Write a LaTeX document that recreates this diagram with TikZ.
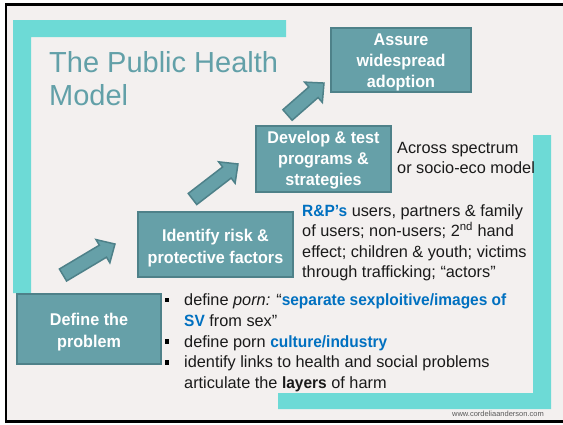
\documentclass[tikz,border=0pt]{standalone}
\usepackage{fontspec}
\setmainfont{Liberation Sans}[BoldFeatures={FakeStretch=0.95}]
\definecolor{bgc}{HTML}{F3F0EF}
\definecolor{lteal}{HTML}{6DDAD6}
\definecolor{boxfill}{HTML}{66A0A8}
\definecolor{boxline}{HTML}{4E8189}
\definecolor{titlec}{HTML}{62A0A8}
\definecolor{bblue}{HTML}{0070C0}
\definecolor{txt}{HTML}{1A1A1A}
\newcommand\blockarr[4]{%
  \draw[arrowst, shift={(#1,#2)}, rotate=#3]
    (0,-7) -- (#4-14,-7) -- (#4-14,-13.5) -- (#4,0) -- (#4-14,13.5) -- (#4-14,7) -- (0,7) -- cycle;}
\begin{document}
\begin{tikzpicture}[x=1pt,y=-1pt,
  box/.style={draw=boxline, fill=boxfill, line width=1.5pt, inner sep=0, rectangle},
  boxtext/.style={text=white, font=\fontsize{17}{21.5}\selectfont\bfseries, align=center, inner sep=0},
  body/.style={text=txt, font=\fontsize{16.3}{20.8}\selectfont, align=left, inner sep=0},
  arrowst/.style={draw=boxline, fill=boxfill, line width=1.5pt, line join=miter},
  bul/.style={fill=black, minimum size=4.5pt, inner sep=0, rectangle}]
\useasboundingbox (0,0) rectangle (563,424);
\fill[white] (0,0) rectangle (563,424);
\draw[line width=2.5pt, fill=bgc] (6,4.5) rectangle (575,421.5);
% teal frames
\fill[lteal] (13,20) -- (286,20) -- (286,37) -- (31,37) -- (31,293) -- (13,293) -- cycle;
\fill[lteal] (551,135) -- (551,409) -- (278,409) -- (278,393) -- (533,393) -- (533,135) -- cycle;
% title
\node[anchor=base west, inner sep=0, align=left, text=titlec, font=\fontsize{29}{33}\selectfont] (title) at (49,105) {The Public Health\\Model};
% boxes
\node[box, minimum width=140pt, minimum height=64pt] (assure) at (401,60) {};
\node[box, minimum width=135pt, minimum height=66pt] (develop) at (323.5,159) {};
\node[box, minimum width=155pt, minimum height=65pt] (identify) at (215.5,244.5) {};
\node[box, minimum width=144pt, minimum height=70pt] (define) at (89,329) {};
\node[boxtext, anchor=base, font=\fontsize{17}{21}\selectfont\bfseries] (assuret) at (401,87) {Assure\\widespread\\adoption};
\node[boxtext, anchor=base, font=\fontsize{17}{21}\selectfont\bfseries] (developt) at (323.5,185.5) {Develop \& test\\programs \&\\strategies};
\node[boxtext, anchor=base, font=\fontsize{17}{22}\selectfont\bfseries] (identifyt) at (215.5,263) {Identify risk \&\\protective factors};
\node[boxtext, anchor=base, font=\fontsize{17}{22}\selectfont\bfseries] (definet) at (89,347) {Define the\\problem};
% block arrows
\blockarr{63}{275}{30.8}{60.5}
\blockarr{192.5}{199}{37.6}{57.4}
\blockarr{287.5}{115}{41.2}{48.5}
% texts
\node[body, anchor=base west, font=\fontsize{16.3}{20}\selectfont] (across) at (397,173) {Across spectrum\\or socio-eco model};
\node[body, anchor=base west, font=\fontsize{16.3}{20.2}\selectfont] (rp) at (302,277.3) {\textcolor{bblue}{\bfseries R\&P’s} users, partners \& family\\of users; non-users; 2\textsuperscript{nd} hand\\effect; children \& youth; victims\\through trafficking; “actors”};
\node[body, anchor=base west] (bullets) at (184,388.7) {define \textit{porn:} “\textcolor{bblue}{\bfseries separate sexploitive/images of}\\\textcolor{bblue}{\bfseries SV} from sex”\\define porn \textcolor{bblue}{\bfseries culture/industry}\\identify links to health and social problems\\articulate the \textbf{layers} of harm};
\node[bul] (b1) at (167,300) {};
\node[bul] (b2) at (167,341.5) {};
\node[bul] (b3) at (167,362.5) {};
\node[anchor=base east, inner sep=0, text=black!65, font=\fontsize{7.5}{9}\selectfont] (web) at (544,416) {www.cordeliaanderson.com};
\end{tikzpicture}
\end{document}
